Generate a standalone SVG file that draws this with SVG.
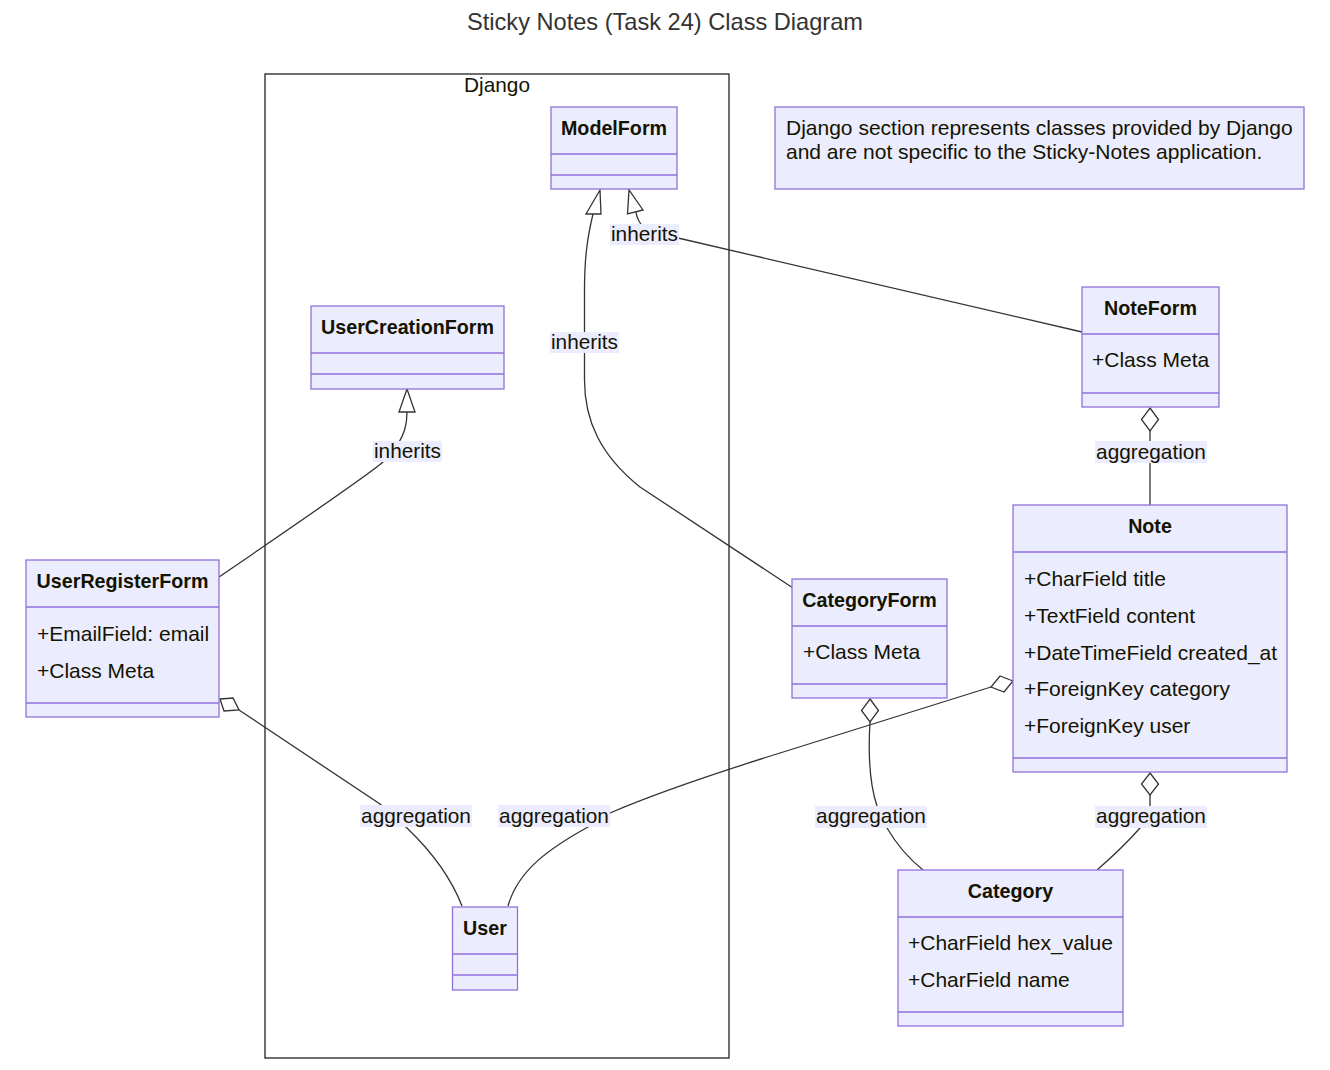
<svg xmlns="http://www.w3.org/2000/svg" width="1330" height="1070" viewBox="0 0 1330 1070">
<style>
  .node rect.box { fill: #ECECFF; stroke: #9370DB; stroke-width: 1.3; }
  .node line { stroke: #9370DB; stroke-width: 1.3; }
  .title { font-family: "Liberation Sans", Arial, sans-serif; font-size: 19.7px; font-weight: bold; fill: #131300; text-anchor: middle; }
  .member { font-family: "Liberation Sans", Arial, sans-serif; font-size: 21px; fill: #131300; }
  .edge { fill: none; stroke: #333333; stroke-width: 1.3; }
  .head { fill: #ffffff; stroke: #333333; stroke-width: 1.3; stroke-linejoin: miter; }
  .lblbg { fill: #ECECFF; }
  .lbl { font-family: "Liberation Sans", Arial, sans-serif; font-size: 20.8px; fill: #131300; text-anchor: middle; }
  .cluster { fill: #ffffff; stroke: #222222; stroke-width: 1.3; }
  .clabel { font-family: "Liberation Sans", Arial, sans-serif; font-size: 20.8px; fill: #131300; text-anchor: middle; }
  .diagtitle { font-family: "Liberation Sans", Arial, sans-serif; font-size: 23.6px; fill: #333333; text-anchor: middle; }
  .notebox { fill: #ECECFF; stroke: #9370DB; stroke-width: 1.3; }
</style>
<rect x="0" y="0" width="1330" height="1070" fill="#ffffff"/>
<text class="diagtitle" x="665" y="30">Sticky Notes (Task 24) Class Diagram</text>

<g id="cluster-django">
  <rect class="cluster" x="265" y="74" width="464" height="984"/>
  <text class="clabel" x="497" y="92">Django</text>
</g>

<g id="connectors">
  <!-- NoteForm inherits ModelForm -->
  <path class="edge" d="M636,212 C637,220 640,224 645,229 L678,238 L1082,332"/>
  <polygon class="head" points="629,190 627.5,214 643,210"/>
  <!-- CategoryForm inherits ModelForm -->
  <path class="edge" d="M593,214 C588,235 584.5,255 584.5,290 L584.5,380 C584.5,420 600,455 640,487 L793,588"/>
  <polygon class="head" points="600,190 586,214 601,214"/>
  <!-- UserRegisterForm inherits UserCreationForm -->
  <path class="edge" d="M407,412 C407,426 404,434 398,444 L383,462 C372,472 320,508 219,577"/>
  <polygon class="head" points="407,389 399,412 415,412"/>
  <!-- NoteForm aggregation Note -->
  <path class="edge" d="M1150,431 L1150,505"/>
  <polygon class="head" points="1150,408 1158.5,419.5 1150,431 1141.5,419.5"/>
  <!-- CategoryForm aggregation Category -->
  <path class="edge" d="M870,722 C868,755 870,785 877,806 L887,828 C897,845 908,858 923,870"/>
  <polygon class="head" points="870,699 878.5,710.5 870,722 861.5,710.5"/>
  <!-- Note aggregation Category -->
  <path class="edge" d="M1150,795 L1150,810 C1148,818 1145,823 1140,828 C1125,845 1112,857 1097,870"/>
  <polygon class="head" points="1150,773 1158.5,784 1150,795 1141.5,784"/>
  <!-- Note aggregation User -->
  <path class="edge" d="M991,687 L780,753 C700,778 640,800 610,813 L588,827 C550,848 518,870 508,906"/>
  <polygon class="head" points="1013,681 1000,676 991,687 1004,692"/>
  <!-- UserRegisterForm aggregation User -->
  <path class="edge" d="M239,710 L380,804 L407,828 C430,850 450,875 462,906"/>
  <polygon class="head" points="220,699 233,698 239,710 224,711"/>

  <!-- labels -->
  <rect class="lblbg" x="610" y="224" width="69" height="21"/>
  <text class="lbl" x="644.5" y="241">inherits</text>
  <rect class="lblbg" x="550" y="332" width="69" height="21"/>
  <text class="lbl" x="584.5" y="349">inherits</text>
  <rect class="lblbg" x="373" y="441" width="69" height="21"/>
  <text class="lbl" x="407.5" y="458">inherits</text>
  <rect class="lblbg" x="1095" y="441" width="112" height="22"/>
  <text class="lbl" x="1151" y="459">aggregation</text>
  <rect class="lblbg" x="360" y="805" width="112" height="22"/>
  <text class="lbl" x="416" y="823">aggregation</text>
  <rect class="lblbg" x="498" y="805" width="112" height="22"/>
  <text class="lbl" x="554" y="823">aggregation</text>
  <rect class="lblbg" x="815" y="806" width="112" height="22"/>
  <text class="lbl" x="871" y="823">aggregation</text>
  <rect class="lblbg" x="1095" y="806" width="112" height="22"/>
  <text class="lbl" x="1151" y="823">aggregation</text>
</g>

<g id="node-ModelForm" class="node">
  <rect class="box" x="551" y="107" width="126" height="82"/>
  <line x1="551" y1="154" x2="677" y2="154"/>
  <line x1="551" y1="175" x2="677" y2="175"/>
  <text class="title" x="614" y="135">ModelForm</text>
</g>

<g id="node-UserCreationForm" class="node">
  <rect class="box" x="311" y="306" width="193" height="83"/>
  <line x1="311" y1="353" x2="504" y2="353"/>
  <line x1="311" y1="374" x2="504" y2="374"/>
  <text class="title" x="407.5" y="334">UserCreationForm</text>
</g>

<g id="node-NoteForm" class="node">
  <rect class="box" x="1082" y="287" width="137" height="120"/>
  <line x1="1082" y1="334" x2="1219" y2="334"/>
  <line x1="1082" y1="393" x2="1219" y2="393"/>
  <text class="title" x="1150.5" y="315">NoteForm</text>
  <text class="member" x="1092" y="367">+Class Meta</text>
</g>

<g id="node-Note" class="node">
  <rect class="box" x="1013" y="505" width="274" height="267"/>
  <line x1="1013" y1="552" x2="1287" y2="552"/>
  <line x1="1013" y1="758" x2="1287" y2="758"/>
  <text class="title" x="1150" y="533">Note</text>
  <text class="member" x="1024" y="586">+CharField title</text>
  <text class="member" x="1024" y="623">+TextField content</text>
  <text class="member" x="1024" y="660">+DateTimeField created_at</text>
  <text class="member" x="1024" y="696">+ForeignKey category</text>
  <text class="member" x="1024" y="733">+ForeignKey user</text>
</g>

<g id="node-CategoryForm" class="node">
  <rect class="box" x="792" y="579" width="155" height="119"/>
  <line x1="792" y1="626" x2="947" y2="626"/>
  <line x1="792" y1="684" x2="947" y2="684"/>
  <text class="title" x="869.5" y="607">CategoryForm</text>
  <text class="member" x="803" y="659">+Class Meta</text>
</g>

<g id="node-Category" class="node">
  <rect class="box" x="898" y="870" width="225" height="156"/>
  <line x1="898" y1="917" x2="1123" y2="917"/>
  <line x1="898" y1="1012" x2="1123" y2="1012"/>
  <text class="title" x="1010.5" y="898">Category</text>
  <text class="member" x="908" y="950">+CharField hex_value</text>
  <text class="member" x="908" y="987">+CharField name</text>
</g>

<g id="node-UserRegisterForm" class="node">
  <rect class="box" x="26" y="560" width="193" height="157"/>
  <line x1="26" y1="607" x2="219" y2="607"/>
  <line x1="26" y1="703" x2="219" y2="703"/>
  <text class="title" x="122.5" y="588">UserRegisterForm</text>
  <text class="member" x="37" y="641">+EmailField: email</text>
  <text class="member" x="37" y="678">+Class Meta</text>
</g>

<g id="node-User" class="node">
  <rect class="box" x="452.5" y="907" width="65" height="83"/>
  <line x1="452.5" y1="954" x2="517.5" y2="954"/>
  <line x1="452.5" y1="975" x2="517.5" y2="975"/>
  <text class="title" x="485" y="935">User</text>
</g>

<g id="note-django">
  <rect class="notebox" x="775" y="107" width="529" height="82"/>
  <text class="member" x="786" y="135">Django section represents classes provided by Django</text>
  <text class="member" x="786" y="159">and are not specific to the Sticky-Notes application.</text>
</g>
</svg>
